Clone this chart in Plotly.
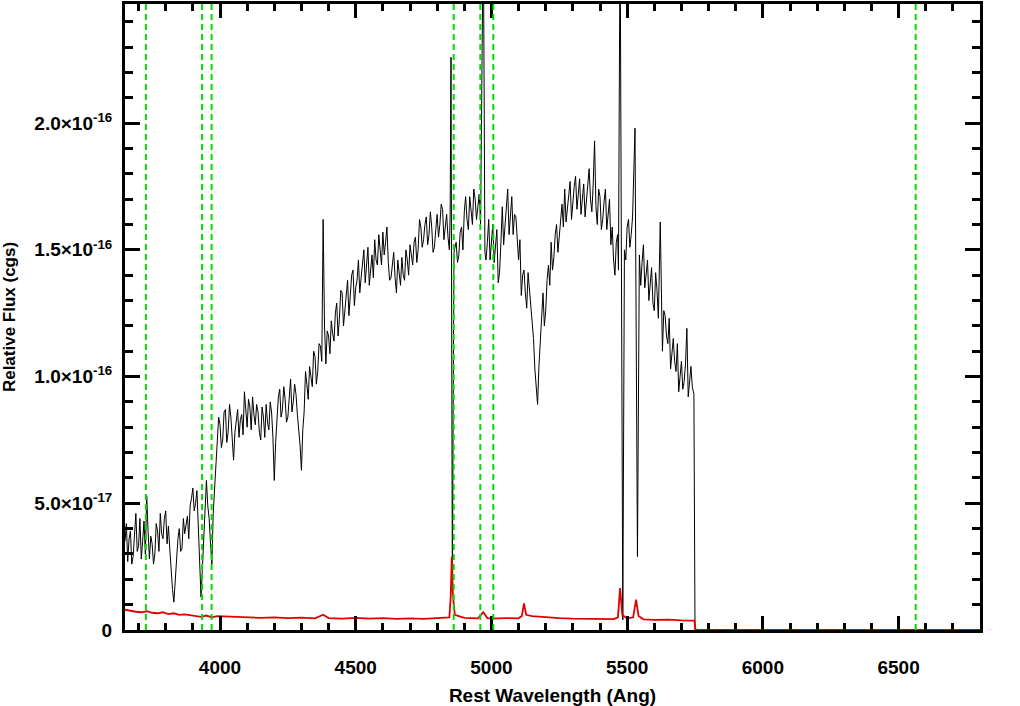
import plotly.graph_objects as go
import numpy as np

# ---- data (flux in units of 1e-17 cgs) ----
wave = [3650, 3660, 3670, 3680, 3690, 3700, 3710, 3720, 3730, 3740, 3750, 3760, 3770, 3780, 3790,
        3800, 3810, 3820, 3830, 3840, 3850, 3860, 3870, 3880, 3890, 3900, 3910, 3920, 3930, 3940,
        3950, 3960, 3970, 3980, 3990, 4000, 4010, 4020, 4030, 4040, 4050, 4060, 4070, 4080, 4090,
        4100, 4110, 4120, 4130, 4140, 4150, 4160, 4170, 4180, 4190, 4200, 4210, 4220, 4230, 4240,
        4250, 4260, 4270, 4280, 4290, 4300, 4310, 4320, 4330, 4340, 4350, 4360, 4370, 4380, 4390,
        4400, 4410, 4420, 4430, 4440, 4450, 4460, 4470, 4480, 4490, 4500, 4510, 4520, 4530, 4540,
        4550, 4560, 4570, 4580, 4590, 4600, 4610, 4620, 4630, 4640, 4650, 4660, 4670, 4680, 4690,
        4700, 4710, 4720, 4730, 4740, 4750, 4760, 4770, 4780, 4790, 4800, 4810, 4820, 4830, 4840,
        4848, 4851, 4856, 4862, 4870, 4880, 4890, 4900, 4910, 4920, 4930, 4940, 4950, 4960, 4970,
        4976, 4980, 4990, 5000, 5010, 5020, 5030, 5040, 5050, 5060, 5070, 5080, 5090, 5100, 5110,
        5120, 5130, 5140, 5150, 5160, 5170, 5180, 5190, 5200, 5210, 5220, 5230, 5240, 5250, 5260,
        5270, 5280, 5290, 5300, 5310, 5320, 5330, 5340, 5350, 5360, 5370, 5380, 5390, 5400, 5410,
        5420, 5430, 5440, 5450, 5460, 5468, 5474, 5484, 5490, 5500, 5510, 5520, 5529, 5538, 5545,
        5550, 5560, 5570, 5580, 5590, 5600, 5610, 5622, 5630, 5640, 5650, 5660, 5670, 5680, 5690,
        5700, 5710, 5720, 5730, 5740, 5746, 5750, 6800]
flux_e17 = [3.5, 2.7, 3.9, 2.9, 4.6, 3.3, 2.8, 4.3, 5.3, 2.8, 3.4, 3.0, 3.9, 4.6, 3.6,
            4.7, 4.1, 2.3, 1.1, 2.7, 4.0, 3.2, 3.8, 4.5, 4.9, 5.6, 5.0, 4.2, 1.3, 3.8,
            5.9, 4.4, 2.6, 5.5, 7.3, 8.1, 7.5, 8.7, 7.8, 8.4, 6.7, 8.2, 7.6, 8.5, 9.4,
            8.0, 8.8, 9.2, 8.1, 8.6, 7.5, 8.4, 8.9, 7.9, 8.6, 5.9, 8.3, 9.5, 8.7, 9.1,
            8.4, 9.9, 9.0, 9.3, 8.0, 6.3, 8.6, 9.7, 10.4, 9.6, 10.8, 10.2, 11.2, 16.2, 10.5,
            11.6, 12.2, 11.4, 12.9, 12.3, 13.3, 12.6, 13.8, 13.1, 14.2, 13.5, 14.6, 13.9, 15.0, 14.3,
            13.6, 14.8, 15.4, 14.4, 15.1, 15.7, 15.3, 14.5, 13.9, 14.9, 13.3, 14.2, 14.7, 13.8, 14.6,
            15.2, 14.4, 15.5, 15.0, 15.9, 15.4, 16.3, 15.6, 15.9, 15.1, 16.4, 16.0, 16.6, 15.8, 15.5,
            16.4, 22.6, 1.8, 14.9, 15.3, 14.8, 15.9, 16.5, 16.2, 17.1, 16.0, 17.0, 16.6, 16.0, 28.0,
            14.9, 14.6, 16.2, 15.4, 14.5, 15.8, 14.1, 16.7, 16.0, 17.4, 16.2, 15.6, 16.3, 14.6, 13.2,
            14.2, 12.7, 13.4, 12.0, 10.3, 8.9, 11.5, 13.3, 12.6, 14.4, 15.3, 14.7, 16.0, 15.5, 16.8,
            17.4, 16.6, 17.7, 17.0, 17.9, 17.2, 16.4, 17.6, 16.9, 18.2, 16.5, 19.3, 16.0, 17.1, 16.2,
            17.4, 16.6, 15.2, 14.6, 15.3, 14.2, 28.0, 0.4, 15.0, 15.9, 15.1, 16.3, 19.8, 2.9, 14.8,
            13.6, 15.2, 14.0, 13.0, 14.3, 12.6, 13.4, 16.1, 11.0, 12.4, 11.3, 10.3, 11.5, 10.2, 9.4,
            10.6, 9.8, 11.9, 9.7, 9.6, 9.3, 0.0, 0.0]

# in-between pixel readings (adds the fine-scale noise of the spectrum)
wave_mid = [3655, 3665, 3675, 3685, 3695, 3705, 3715, 3725, 3735, 3745, 3755, 3765, 3775, 3785, 3795,
            3805, 3815, 3825, 3835, 3845, 3855, 3865, 3875, 3885, 3895, 3905, 3915, 3925, 3935, 3945,
            3955, 3965, 3975, 3985, 3995, 4005, 4015, 4025, 4035, 4045, 4055, 4065, 4075, 4085, 4095,
            4105, 4115, 4125, 4135, 4145, 4155, 4165, 4175, 4185, 4195, 4205, 4215, 4225, 4235, 4245,
            4255, 4265, 4275, 4285, 4295, 4305, 4315, 4325, 4335, 4345, 4355, 4365, 4375, 4385, 4395,
            4405, 4415, 4425, 4435, 4445, 4455, 4465, 4475, 4485, 4495, 4505, 4515, 4525, 4535, 4545,
            4555, 4565, 4575, 4585, 4595, 4605, 4615, 4625, 4635, 4645, 4655, 4665, 4675, 4685, 4695,
            4705, 4715, 4725, 4735, 4745, 4755, 4765, 4775, 4785, 4795, 4805, 4815, 4825, 4835, 4845,
            4875, 4885, 4895, 4905, 4915, 4925, 4935, 4945, 4955, 4985, 4995, 5005, 5015, 5025, 5035,
            5045, 5055, 5065, 5075, 5085, 5095, 5105, 5115, 5125, 5135, 5145, 5155, 5165, 5175, 5185,
            5195, 5205, 5215, 5225, 5235, 5245, 5255, 5265, 5275, 5285, 5295, 5305, 5315, 5325, 5335,
            5345, 5355, 5365, 5375, 5385, 5395, 5405, 5415, 5425, 5435, 5445, 5455, 5465, 5495, 5505,
            5515, 5555, 5565, 5575, 5585, 5595, 5605, 5615, 5635, 5645, 5655, 5665, 5675, 5685, 5695,
            5705, 5715, 5725, 5735]
flux_mid_e17 = [4.2, 3.6, 2.6, 4.0, 3.1, 4.4, 3.5, 3.0, 3.9, 3.7, 2.6, 4.2, 3.1, 3.8, 4.4,
                3.4, 3.2, 1.6, 2.0, 3.6, 3.1, 4.4, 4.1, 3.6, 5.2, 4.7, 5.5, 3.3, 2.4, 5.2,
                4.9, 3.4, 4.6, 6.4, 8.4, 7.2, 8.6, 7.4, 8.9, 7.5, 7.8, 8.7, 8.3, 7.7, 8.6,
                9.1, 7.9, 8.5, 8.9, 7.8, 8.8, 7.6, 8.2, 9.0, 7.6, 7.4, 9.2, 8.4, 9.6, 8.2,
                9.3, 8.6, 9.7, 8.5, 7.3, 7.9, 10.2, 9.1, 9.9, 11.0, 9.7, 11.3, 10.6, 12.0, 11.8,
                10.9, 11.7, 12.5, 11.6, 13.4, 12.0, 13.4, 12.4, 14.0, 12.8, 13.8, 13.3, 14.5, 13.7, 15.1,
                14.2, 13.9, 14.6, 15.6, 14.4, 14.8, 15.9, 13.8, 14.5, 13.9, 14.6, 13.6, 14.0, 15.0, 14.0,
                14.7, 15.3, 14.5, 16.2, 15.1, 16.0, 15.2, 16.5, 14.9, 15.8, 15.5, 16.8, 15.4, 16.4, 15.0,
                14.5, 15.7, 15.0, 17.1, 15.8, 16.5, 17.4, 16.2, 17.2, 15.3, 14.6, 16.0, 15.2, 13.7, 15.3,
                15.2, 17.0, 15.6, 17.1, 16.4, 15.2, 15.4, 14.0, 13.3, 14.1, 12.6, 11.5, 9.6, 10.4, 12.4,
                12.0, 13.8, 13.6, 14.2, 15.6, 14.9, 16.3, 15.9, 16.1, 17.3, 16.2, 17.5, 16.6, 17.8, 17.1,
                16.3, 17.5, 17.0, 17.6, 16.7, 17.4, 15.8, 16.9, 15.8, 17.0, 15.9, 14.0, 15.6, 14.6, 16.2,
                15.6, 14.5, 13.5, 14.6, 13.8, 12.9, 14.1, 12.3, 12.6, 11.6, 12.3, 11.0, 10.6, 11.3, 10.0,
                9.5, 10.5, 9.2, 10.4]

err_wave = [3650, 3670, 3690, 3710, 3730, 3750, 3770, 3790, 3810, 3830, 3850, 3870, 3890, 3910,
            3930, 3950, 3970, 3990, 4050, 4100, 4150, 4200, 4250, 4300, 4350, 4380, 4400, 4450,
            4500, 4550, 4600, 4650, 4700, 4750, 4800, 4845, 4850, 4854, 4858, 4865, 4900, 4950,
            4970, 4985, 5000, 5050, 5100, 5112, 5120, 5128, 5150, 5200, 5250, 5300, 5350, 5400,
            5450, 5466, 5474, 5482, 5500, 5522, 5533, 5542, 5560, 5600, 5650, 5700, 5748, 5752, 6800]
err_e17 = [0.8, 0.75, 0.72, 0.7, 0.74, 0.68, 0.66, 0.7, 0.63, 0.66, 0.6, 0.62, 0.58, 0.55,
           0.52, 0.57, 0.5, 0.55, 0.52, 0.5, 0.48, 0.5, 0.47, 0.49, 0.46, 0.6, 0.47, 0.45,
           0.48, 0.45, 0.47, 0.44, 0.46, 0.44, 0.47, 0.5, 1.3, 2.9, 1.4, 0.6, 0.48, 0.46,
           0.7, 0.47, 0.45, 0.47, 0.46, 0.55, 1.05, 0.6, 0.55, 0.5, 0.47, 0.45, 0.44, 0.45,
           0.43, 0.5, 1.65, 0.6, 0.45, 0.5, 1.2, 0.55, 0.42, 0.4, 0.41, 0.38, 0.37, 0.0, 0.0]

line_marks = [3727, 3934, 3969, 4861, 4959, 5007, 6563]

y_tick_vals = [0, 5e-17, 1e-16, 1.5e-16, 2e-16]
y_tick_text = ["0", "5.0×10<sup>-17</sup>", "1.0×10<sup>-16</sup>",
               "1.5×10<sup>-16</sup>", "2.0×10<sup>-16</sup>"]

SCALE = 1e-17
FONT = "Liberation Sans"

# merge the two sets of readings into one wavelength-sorted spectrum
pairs = sorted(zip(wave + wave_mid, flux_e17 + flux_mid_e17))
spec_w = [p[0] for p in pairs]
spec_f = np.array([p[1] for p in pairs]) * SCALE

fig = go.Figure()
fig.add_trace(go.Scatter(x=spec_w, y=spec_f, mode="lines",
                         line=dict(color="black", width=1), showlegend=False))
fig.add_trace(go.Scatter(x=err_wave, y=np.array(err_e17) * SCALE, mode="lines",
                         line=dict(color="#e00000", width=1.8), showlegend=False))

for wl in line_marks:
    fig.add_shape(type="line", x0=wl, x1=wl, y0=0, y1=1, xref="x", yref="paper",
                  line=dict(color="#00dd00", width=2, dash="6px,4px"))

x_minor = [v for v in range(3700, 6800, 100) if v % 500 != 0]
y_minor = [k * 1e-17 for k in range(0, 25) if k % 5 != 0]

fig.update_layout(
    width=1020, height=706,
    margin=dict(l=125, r=40, t=1, b=70),
    paper_bgcolor="white", plot_bgcolor="white",
    font=dict(family=FONT, color="black"),
    xaxis=dict(
        range=[3650, 6800], tickmode="linear", tick0=0, dtick=500, tickformat="d",
        ticks="inside", ticklen=14, tickwidth=3, tickcolor="black",
        showline=True, linewidth=3, linecolor="black", mirror="ticks",
        showgrid=False, zeroline=False,
        minor=dict(tickmode="array", tickvals=x_minor, ticks="inside", ticklen=7,
                   tickwidth=3, tickcolor="black", showgrid=False),
        tickfont=dict(family=FONT, size=19, weight="bold", color="black"),
        ticklabelstandoff=18,
        title=dict(text="Rest Wavelength (Ang)", standoff=14,
                   font=dict(family=FONT, size=19, weight="bold", color="black")),
    ),
    yaxis=dict(
        range=[0, 2.47e-16], tickmode="array", tickvals=y_tick_vals, ticktext=y_tick_text,
        ticks="inside", ticklen=15, tickwidth=3, tickcolor="black",
        showline=True, linewidth=3, linecolor="black", mirror="ticks",
        showgrid=False, zeroline=False,
        minor=dict(tickmode="array", tickvals=y_minor, ticks="inside", ticklen=8,
                   tickwidth=3, tickcolor="black", showgrid=False),
        tickfont=dict(family=FONT, size=19, weight="bold", color="black"),
        ticklabelstandoff=6,
        title=dict(text="Relative Flux (cgs)", standoff=16,
                   font=dict(family=FONT, size=17, weight="bold", color="black")),
    ),
)

fig.write_html("out.html", config={"displayModeBar": False},
               post_script="document.body.style.margin='0';")
